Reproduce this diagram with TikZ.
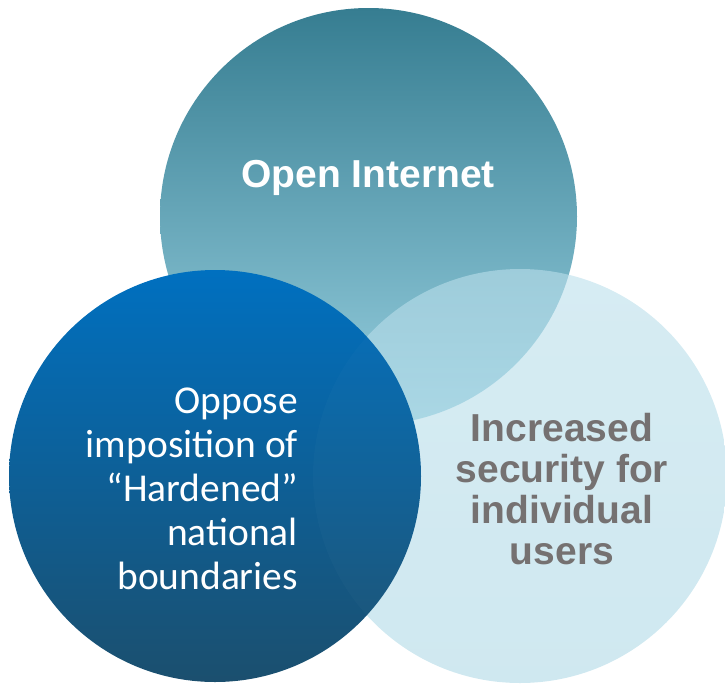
\documentclass[tikz,border=0pt]{standalone}
\usepackage{fontspec}
\setmainfont{Liberation Sans}
\newfontfamily\carlito{Carlito}
\definecolor{topA}{HTML}{367D91}
\definecolor{topB}{HTML}{6AAFC5}
\definecolor{topC}{HTML}{98D0E0}
\definecolor{rA}{RGB}{187,223,235}
\definecolor{rB}{RGB}{175,217,230}
\definecolor{lA}{HTML}{0070C0}
\definecolor{lB}{HTML}{0C62A6}
\definecolor{lC}{HTML}{1B4F6E}
\definecolor{graytxt}{HTML}{757171}
\begin{document}
\begin{tikzpicture}[x=1pt,y=-1pt,
  label/.style={inner sep=0pt, outer sep=0pt}]
\useasboundingbox (0,0) rectangle (725,683);
\coordinate (ct) at (368.5,216.5);
\coordinate (cr) at (520,476);
\coordinate (cl) at (215,476);
\begin{scope}
  \shade[top color=topA, middle color=topB, bottom color=topC] (ct) circle (208.5pt);
\end{scope}
\begin{scope}[transparency group, opacity=0.6]
  \shade[top color=rA, bottom color=rB] (cr) circle (207pt);
\end{scope}
\begin{scope}[opacity=1, fill opacity=1]
  \shade[top color=lA, middle color=lB, bottom color=lC] (cl) circle (206pt);
\end{scope}
\begin{scope}
  \clip (cl) circle (206pt);
  \fill[white, fill opacity=0.02] (cr) circle (207pt);
\end{scope}
\node[label, font=\bfseries\fontsize{39}{45}\selectfont, text=white, anchor=base] (open) at (368,187) {Open Internet};
\node[label, font=\carlito\fontsize{39.5}{44}\selectfont, text=white, align=right, anchor=base east] (oppose) at (298,589) {Oppose\\imposition of\\“Hardened”\\national\\boundaries};
\node[label, font=\bfseries\fontsize{39}{41}\selectfont, text=graytxt, align=center, anchor=base] (secur) at (562,564) {Increased\\security for\\individual\\users};
\end{tikzpicture}
\end{document}
